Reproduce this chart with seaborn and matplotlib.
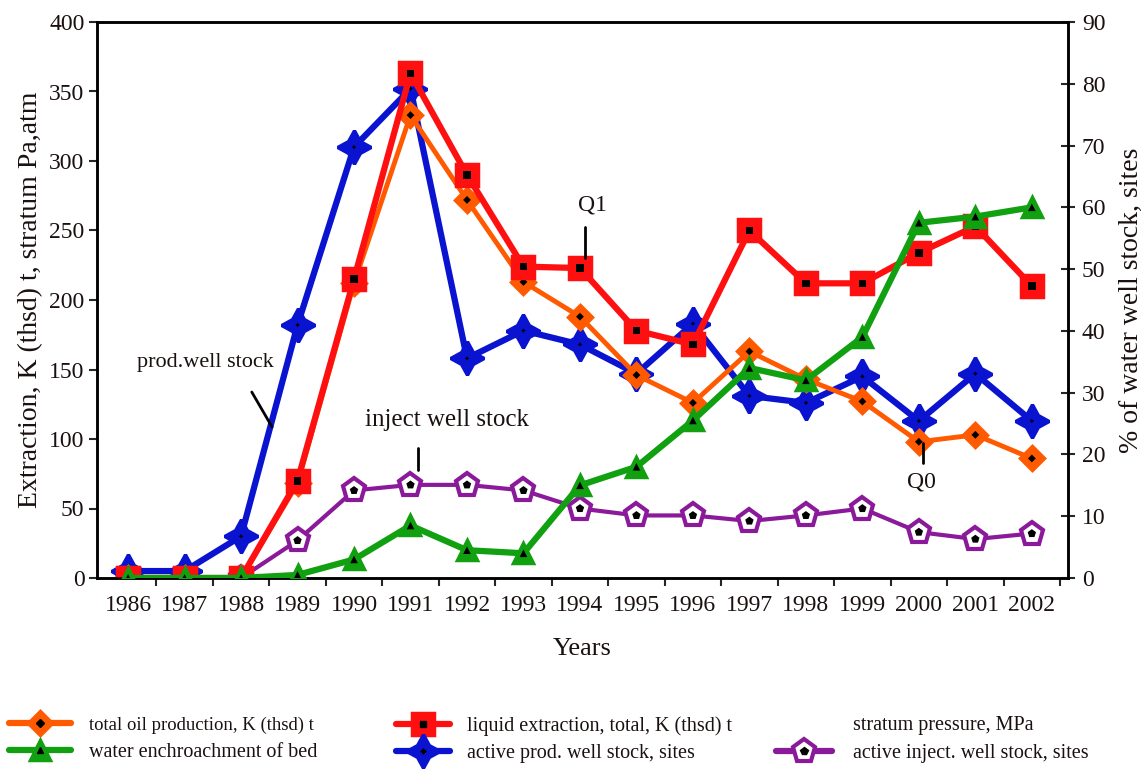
import matplotlib
matplotlib.use("Agg")
import matplotlib.pyplot as plt
import seaborn as sns
import numpy as np
import pandas as pd
from matplotlib.lines import Line2D
from matplotlib.ticker import FixedLocator

years = [1986, 1987, 1988, 1989, 1990, 1991, 1992, 1993, 1994, 1995, 1996,
         1997, 1998, 1999, 2000, 2001, 2002]
liquid_extraction = [0, 0, 0, 70, 215, 363, 290, 224, 223, 178, 168, 250, 212, 212, 234, 253, 210]
oil_production = [0, 0, 0, 68, 212, 333, 272, 213, 188, 146, 126, 163, 143, 127, 98, 103, 86]
prod_well_stock = [5, 5, 30, 182, 310, 352, 158, 178, 168, 147, 183, 131, 126, 145, 113, 147, 113]
inject_well_stock = [0, 0, 0, 27, 63, 67, 67, 63, 50, 45, 45, 41, 45, 50, 33, 28, 32]
water_encroachment_pct = [0, 0, 0, 0.5, 3, 8.5, 4.5, 4, 15, 18, 25.5, 34, 32, 39, 57.5, 58.5, 60]

legend_labels = ["total oil production, K (thsd) t",
                 "liquid extraction, total, K (thsd) t",
                 "stratum pressure, MPa",
                 "water enchroachment of bed",
                 "active prod. well stock, sites",
                 "active inject. well stock, sites"]

sns.set_style("ticks")
plt.rcParams['font.family'] = ['Liberation Serif', 'DejaVu Serif']
TXT = '#1a1010'
plt.rcParams['text.color'] = TXT
plt.rcParams['axes.labelcolor'] = TXT
plt.rcParams['xtick.labelcolor'] = TXT
plt.rcParams['ytick.labelcolor'] = TXT

pos = list(range(len(years)))
df = pd.DataFrame({"pos": pos, "liq": liquid_extraction, "oil": oil_production,
                   "prod": prod_well_stock, "inj": inject_well_stock,
                   "water": water_encroachment_pct})

fig = plt.figure(figsize=(11.45, 7.69), dpi=100)
ax = fig.add_axes([97/1145, 1-578/769, (1068-97)/1145, (578-22)/769])
ax2 = ax.twinx()

ORANGE = '#ff5a00'
RED = '#ff1010'
GREEN = '#10a010'
BLUE = '#0a14d0'
PURPLE = '#8a1a9a'

def series(axis, col, color, marker, ms, face, lw, inner_marker, inner_s, z, mew=2.5):
    sns.lineplot(data=df, x="pos", y=col, ax=axis, color=color, lw=lw,
                 marker=marker, markersize=ms, markerfacecolor=face,
                 markeredgecolor=color, markeredgewidth=mew, zorder=z)
    sns.scatterplot(data=df, x="pos", y=col, ax=axis, marker=inner_marker,
                    s=inner_s, color='black', edgecolor='none', zorder=z + 0.1)

series(ax, "inj", PURPLE, 'p', 17, 'white', 3, 'p', 40, 2, mew=3)
series(ax, "prod", BLUE, (4, 1, 0), 24, BLUE, 4.5, (4, 1, 0), 12, 3)
series(ax, "oil", ORANGE, 'D', 12, ORANGE, 3.5, 'D', 16, 4)
series(ax, "liq", RED, 's', 16, RED, 4.5, 's', 30, 5)
series(ax2, "water", GREEN, '^', 14, GREEN, 4.5, '^', 30, 3)

ax.set_xlim(-0.55, 16.64)
ax.set_ylim(0, 400)
ax2.set_ylim(0, 90)
ax.set_yticks(range(0, 401, 50))
ax2.set_yticks(range(0, 91, 10))
ax.set_xticks(pos)
ax.set_xticklabels([str(y) for y in years])
ax.xaxis.set_minor_locator(FixedLocator([p + 0.5 for p in pos]))
ax.tick_params(axis='x', which='major', length=0, labelsize=17, pad=12)
ax.tick_params(axis='x', which='minor', length=6, width=1.5, direction='out')
ax.tick_params(axis='y', length=6, width=1.5, direction='out', labelsize=17, pad=3)
ax2.tick_params(axis='y', length=10, width=1.5, direction='inout', labelsize=17, pad=5)

ax.set_xlabel("Years", fontsize=19, labelpad=16)
ax.set_ylabel("Extraction, K (thsd) t, stratum Pa,atm", fontsize=20, labelpad=4)
ax2.set_ylabel("% of water well stock, sites", fontsize=20, labelpad=10)

for a in (ax, ax2):
    for s in a.spines.values():
        s.set_visible(True)
        s.set_linewidth(1.8)
        s.set_color('black')

# annotations
ax.text(1.36, 155, "prod.well stock", fontsize=16, ha='center', va='center')
ax.plot([2.19, 2.55], [133.8, 108.6], color='black', lw=2, zorder=6)
ax.text(5.65, 113.7, "inject well stock", fontsize=18, ha='center', va='center')
ax.plot([5.13, 5.13], [93.5, 77.7], color='black', lw=2, zorder=6)
ax.text(8.23, 268, "Q1", fontsize=17, ha='center', va='center')
ax.plot([8.09, 8.09], [252.5, 230], color='black', lw=2, zorder=6)
ax.text(14.05, 69, "Q0", fontsize=17, ha='center', va='center')
ax.plot([14.07, 14.07], [97, 82.7], color='black', lw=2, zorder=6)

# legend (three columns built separately)
def handle(color, marker, ms, face, inner, inner_ms, mew=2.5):
    outer = Line2D([], [], color=color, lw=4.5, marker=marker, markersize=ms,
                   markerfacecolor=face, markeredgecolor=color, markeredgewidth=mew)
    inn = Line2D([], [], color='black', lw=0, marker=inner, markersize=inner_ms)
    return (outer, inn)

h_oil = handle(ORANGE, 'D', 12, ORANGE, 'D', 4)
h_liq = handle(RED, 's', 16, RED, 's', 5)
h_str = Line2D([], [], lw=0, color='none')
h_wat = handle(GREEN, '^', 14, GREEN, '^', 5)
h_prd = handle(BLUE, (4, 1, 0), 24, BLUE, (4, 1, 0), 4)
h_inj = handle(PURPLE, 'p', 17, 'white', 'p', 6, mew=3)

cols = [([h_oil, h_wat], [legend_labels[0], legend_labels[3]], 5/1145, 3.1, 0.85),
        ([h_liq, h_prd], [legend_labels[1], legend_labels[4]], 392/1145, 2.7, 0.8),
        ([h_str, h_inj], [legend_labels[2], legend_labels[5]], 772/1145, 2.8, 1.0)]
for hs, ls, x0, hl, tp in cols:
    leg = fig.legend(hs, ls, loc='upper left', bbox_to_anchor=(x0, 1 - 712/769),
                     frameon=False, fontsize=14.5, handlelength=hl, handletextpad=tp,
                     labelspacing=0.42, borderaxespad=0, borderpad=0.2)
    if ls[0] == legend_labels[0]:
        leg.get_texts()[0].set_fontsize(13.5)

fig.savefig("out.png", dpi=100)
